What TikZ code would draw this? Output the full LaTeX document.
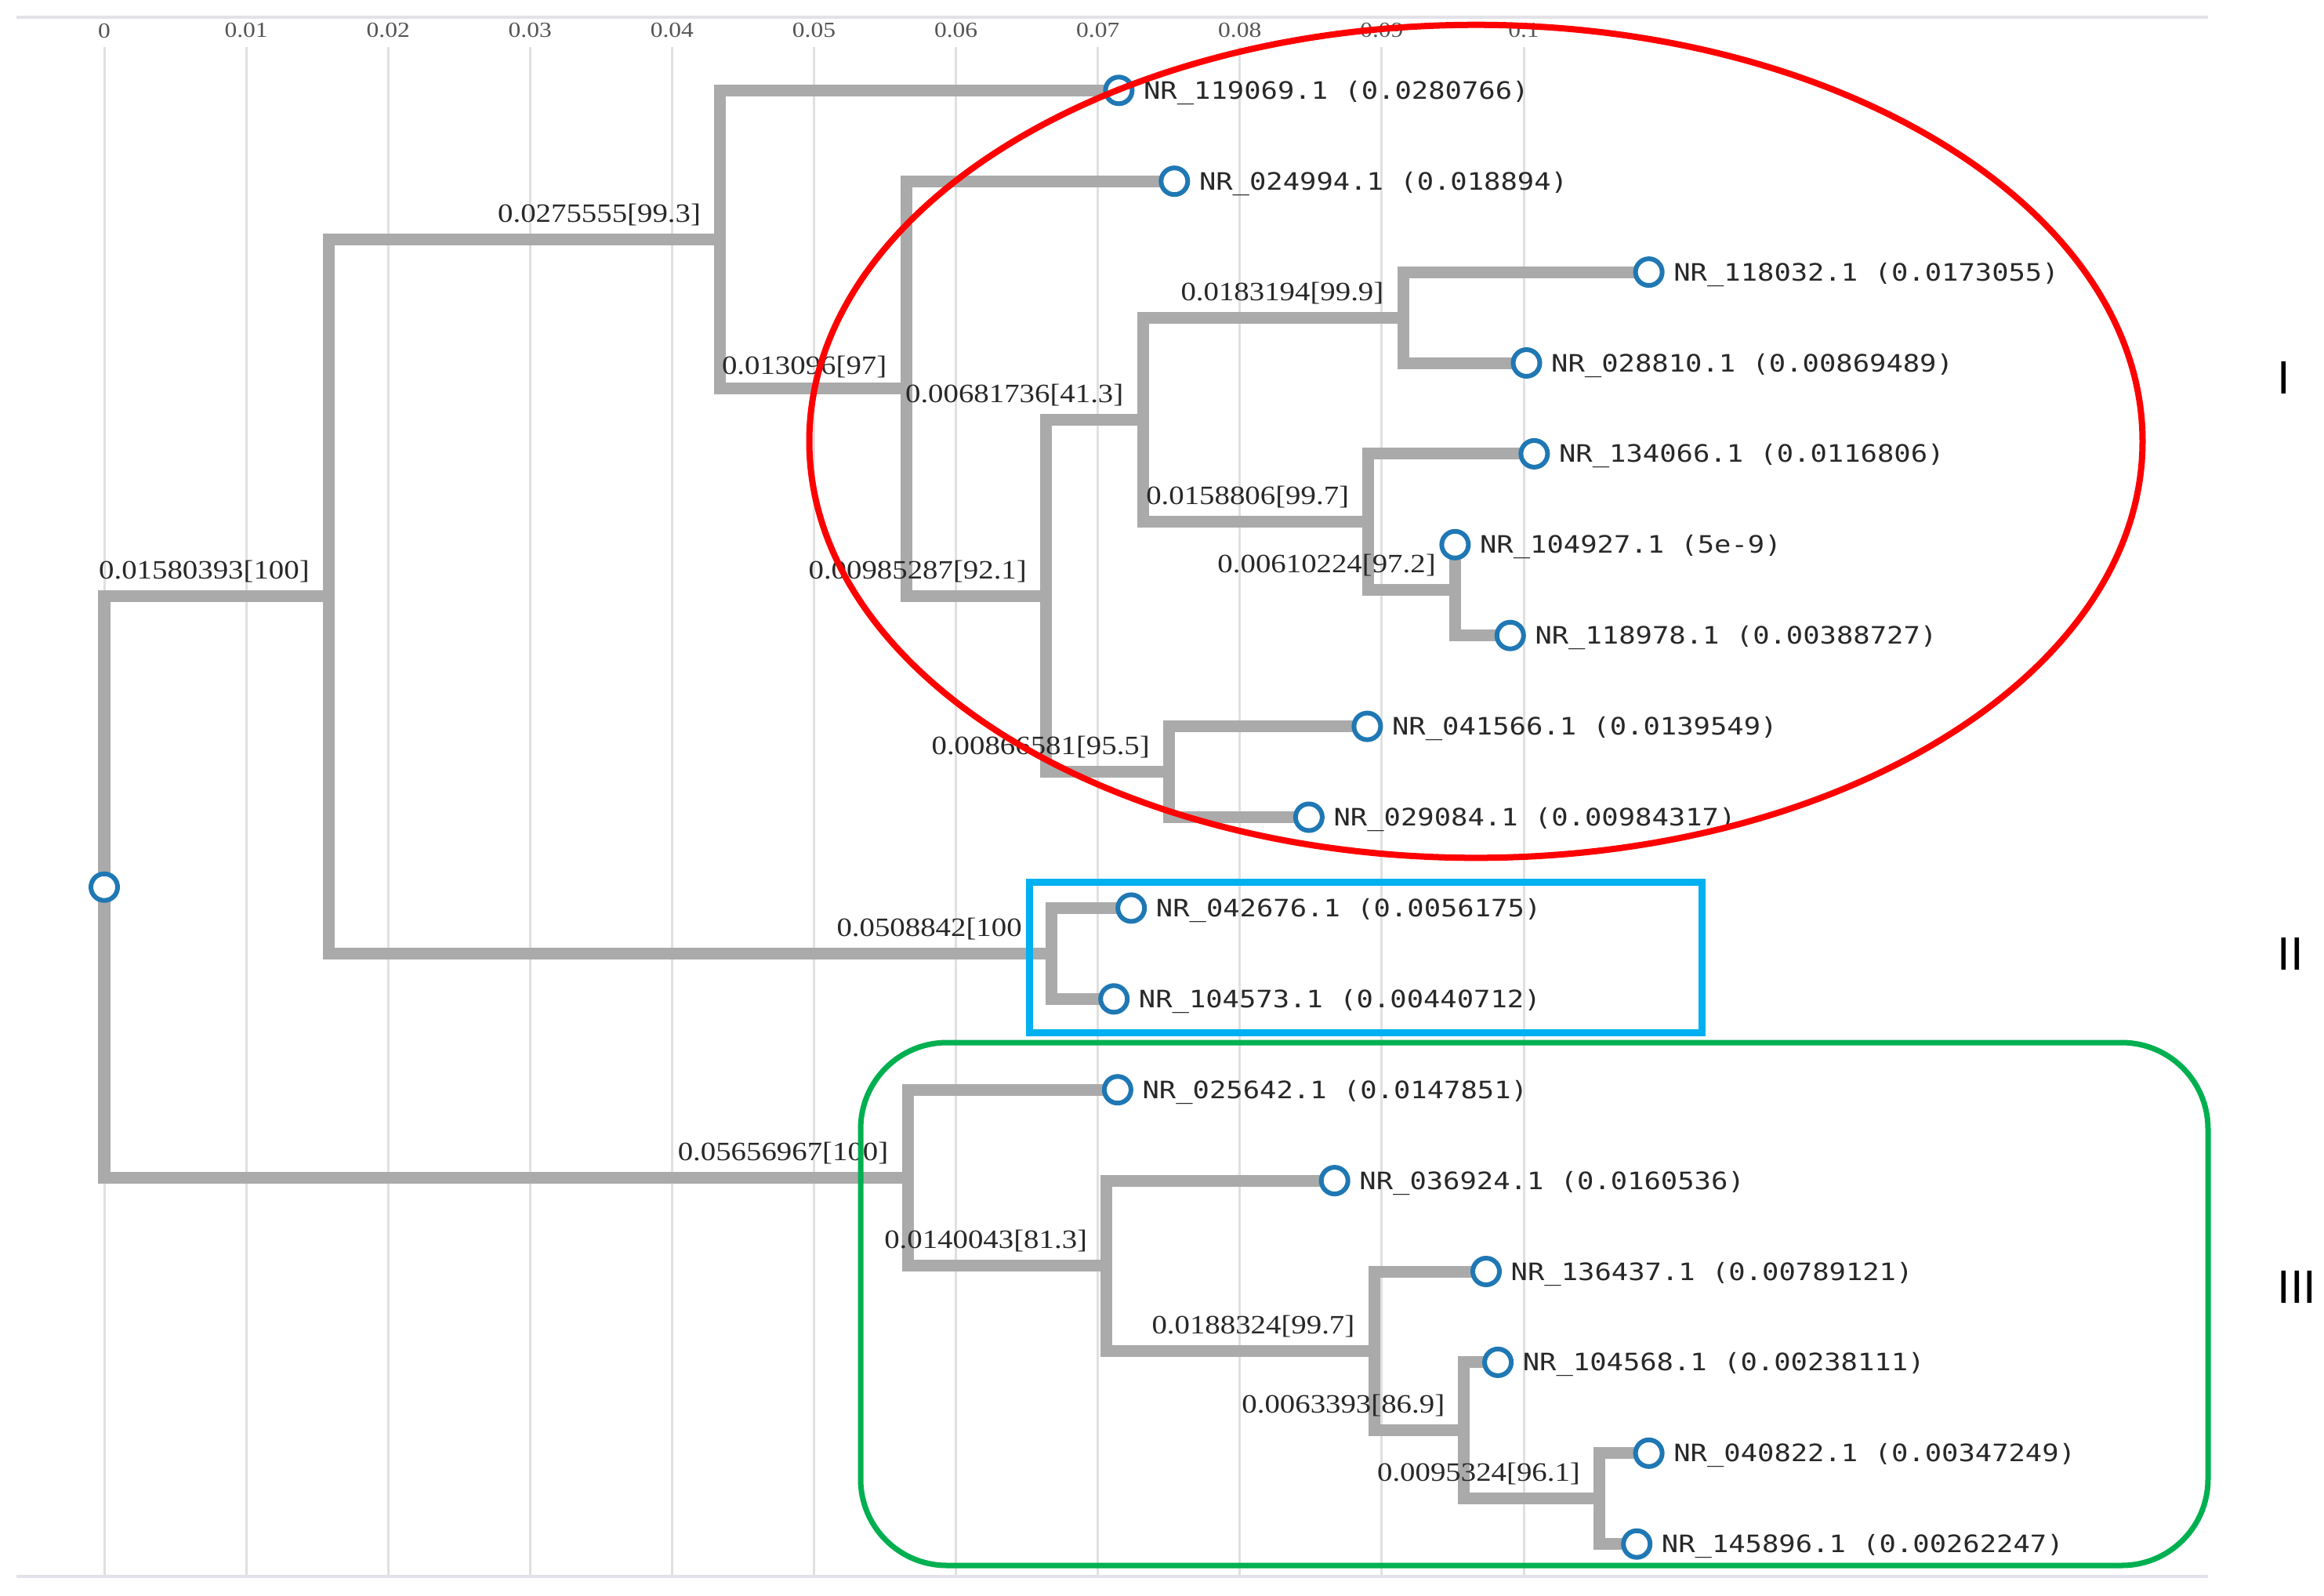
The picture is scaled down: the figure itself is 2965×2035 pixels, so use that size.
\documentclass[tikz,border=0pt]{standalone}
\usepackage{fontspec}
\newfontfamily\serifl[FakeStretch=1.15]{Liberation Serif}
\newfontfamily\monol[FakeStretch=1.16]{DejaVu Sans Mono}
\newfontfamily\sansl{Liberation Sans}
\definecolor{branchgray}{RGB}{170,170,170}
\definecolor{gridgray}{RGB}{224,224,224}
\definecolor{axisgray}{RGB}{226,226,232}
\definecolor{ringblue}{RGB}{31,120,180}
\definecolor{boxblue}{RGB}{0,176,240}
\definecolor{boxgreen}{RGB}{0,176,80}
\definecolor{txt}{RGB}{40,40,40}
\definecolor{ticktxt}{RGB}{85,85,85}
\begin{document}
\begin{tikzpicture}[x=0.01cm,y=-0.01cm,
 branch/.style={draw=branchgray,line width=0.15cm,line join=miter},
 leaf/.style={circle,draw=ringblue,fill=white,line width=0.06cm,minimum size=0.34cm,inner sep=0pt},
 leaflab/.style={anchor=base west,inner sep=0pt,text=txt,font=\monol\fontsize{8.7}{10}\selectfont},
 suplab/.style={anchor=base east,inner sep=0pt,text=txt,font=\serifl\fontsize{9.6}{11}\selectfont},
 ticklab/.style={inner sep=0pt,text=ticktxt,font=\serifl\fontsize{7.8}{9}\selectfont},
 clulab/.style={anchor=west,inner sep=0pt,text=black,font=\sansl\fontsize{17}{20}\selectfont},
 gridline/.style={draw=gridgray,line width=0.03cm},
 axisline/.style={draw=axisgray,line width=0.04cm},
]
\useasboundingbox[fill=white] (0,0) rectangle (2965,2035);

% grid and axis
\foreach \k/\lab in {0/0,1/0.01,2/0.02,3/0.03,4/0.04,5/0.05,6/0.06,7/0.07,8/0.08,9/0.09,10/0.1}{
  \draw[gridline] ({133+181.1*\k},60) -- ({133+181.1*\k},2011);
  \node[ticklab] (tick\k) at ({133+181.1*\k},39) {\lab};
}
\coordinate (axTL) at (21,22);
\coordinate (axTR) at (2817,22);
\coordinate (axBL) at (21,2011);
\coordinate (axBR) at (2817,2011);
\draw[axisline] (axTL) -- (axTR);
\draw[axisline] (axBL) -- (axBR);

% internal nodes
\coordinate (R) at (133,1131.7);
\coordinate (A) at (419.4,760.9);
\coordinate (A1) at (918.7,305.45);
\coordinate (A1b) at (1156,495.6);
\coordinate (C) at (1334.5,760);
\coordinate (D) at (1458,535.4);
\coordinate (E) at (1790,405.05);
\coordinate (F) at (1745.8,665.8);
\coordinate (G) at (1856.4,752.75);
\coordinate (H) at (1491.5,984.55);
\coordinate (A2) at (1341.4,1216.35);
\coordinate (B) at (1158,1502.5);
\coordinate (J) at (1411.8,1614.75);
\coordinate (K) at (1753,1723.4);
\coordinate (L) at (1867.9,1824.8);
\coordinate (M) at (2040.6,1911.75);

% leaves
\coordinate (p1) at (1427.4,115.3);
\coordinate (p2) at (1498.3,231.2);
\coordinate (p3) at (2103.6,347.1);
\coordinate (p4) at (1947.5,463.0);
\coordinate (p5) at (1957.4,578.9);
\coordinate (p6) at (1856.4,694.8);
\coordinate (p7) at (1926.8,810.7);
\coordinate (p8) at (1744.4,926.6);
\coordinate (p9) at (1669.9,1042.5);
\coordinate (p10) at (1443.2,1158.4);
\coordinate (p11) at (1421.2,1274.3);
\coordinate (p12) at (1425.9,1390.2);
\coordinate (p13) at (1702.7,1506.1);
\coordinate (p14) at (1896,1622.0);
\coordinate (p15) at (1911.1,1737.9);
\coordinate (p16) at (2103.6,1853.8);
\coordinate (p17) at (2088.2,1969.7);

% branches
\foreach \pa/\ch in {R/A,R/B,A/A1,A/A2,A1/p1,A1/A1b,A1b/p2,A1b/C,C/D,C/H,D/E,D/F,E/p3,E/p4,F/p5,F/G,G/p6,G/p7,H/p8,H/p9,A2/p10,A2/p11,B/p12,B/J,J/p13,J/K,K/p14,K/L,L/p15,L/M,M/p16,M/p17}{
  \draw[branch] (\pa) |- (\ch);
}

% root and leaf circles
\node[leaf] (root) at (R) {};
\foreach \i in {1,...,17}{
  \node[leaf] (c\i) at (p\i) {};
}

% leaf labels
\node[leaflab] (t1) at ([shift={(31,11)}]p1) {NR\_119069.1 (0.0280766)};
\node[leaflab] (t2) at ([shift={(31,11)}]p2) {NR\_024994.1 (0.018894)};
\node[leaflab] (t3) at ([shift={(31,11)}]p3) {NR\_118032.1 (0.0173055)};
\node[leaflab] (t4) at ([shift={(31,11)}]p4) {NR\_028810.1 (0.00869489)};
\node[leaflab] (t5) at ([shift={(31,11)}]p5) {NR\_134066.1 (0.0116806)};
\node[leaflab] (t6) at ([shift={(31,11)}]p6) {NR\_104927.1 (5e-9)};
\node[leaflab] (t7) at ([shift={(31,11)}]p7) {NR\_118978.1 (0.00388727)};
\node[leaflab] (t8) at ([shift={(31,11)}]p8) {NR\_041566.1 (0.0139549)};
\node[leaflab] (t9) at ([shift={(31,11)}]p9) {NR\_029084.1 (0.00984317)};
\node[leaflab] (t10) at ([shift={(31,11)}]p10) {NR\_042676.1 (0.0056175)};
\node[leaflab] (t11) at ([shift={(31,11)}]p11) {NR\_104573.1 (0.00440712)};
\node[leaflab] (t12) at ([shift={(31,11)}]p12) {NR\_025642.1 (0.0147851)};
\node[leaflab] (t13) at ([shift={(31,11)}]p13) {NR\_036924.1 (0.0160536)};
\node[leaflab] (t14) at ([shift={(31,11)}]p14) {NR\_136437.1 (0.00789121)};
\node[leaflab] (t15) at ([shift={(31,11)}]p15) {NR\_104568.1 (0.00238111)};
\node[leaflab] (t16) at ([shift={(31,11)}]p16) {NR\_040822.1 (0.00347249)};
\node[leaflab] (t17) at ([shift={(31,11)}]p17) {NR\_145896.1 (0.00262247)};

% branch support labels
\node[suplab] (sA) at ([shift={(-24,-22)}]A) {0.01580393[100]};
\node[suplab] (sA1) at ([shift={(-24,-22)}]A1) {0.0275555[99.3]};
\node[suplab] (sA1b) at ([shift={(-24,-18)}]A1b) {0.013096[97]};
\node[suplab] (sC) at ([shift={(-24,-22)}]C) {0.00985287[92.1]};
\node[suplab] (sD) at ([shift={(-24,-22)}]D) {0.00681736[41.3]};
\node[suplab] (sE) at ([shift={(-24,-22)}]E) {0.0183194[99.9]};
\node[suplab] (sF) at ([shift={(-24,-22)}]F) {0.0158806[99.7]};
\node[suplab] (sG) at ([shift={(-24,-22)}]G) {0.00610224[97.2]};
\node[suplab] (sH) at ([shift={(-24,-22)}]H) {0.00866581[95.5]};
\node[suplab] (sA2) at ([shift={(-37,-22)}]A2) {0.0508842[100};
\node[suplab] (sB) at ([shift={(-24,-22)}]B) {0.05656967[100]};
\node[suplab] (sJ) at ([shift={(-24,-22)}]J) {0.0140043[81.3]};
\node[suplab] (sK) at ([shift={(-24,-22)}]K) {0.0188324[99.7]};
\node[suplab] (sL) at ([shift={(-24,-22)}]L) {0.0063393[86.9]};
\node[suplab] (sM) at ([shift={(-24,-22)}]M) {0.0095324[96.1]};

% cluster outlines
\draw[red,line width=0.08cm] (1883,563) ellipse [x radius=8.5cm, y radius=5.31cm];
\draw[boxblue,line width=0.09cm] (1313,1125) rectangle (2171,1317);
\draw[boxgreen,line width=0.07cm,rounded corners=1.1cm] (1098,1330) rectangle (2817,1997);

% cluster labels
\node[clulab] (gI) at (2905,482) {I};
\node[clulab] (gII) at (2905,1217) {II};
\node[clulab] (gIII) at (2905,1642) {III};
\end{tikzpicture}
\end{document}
